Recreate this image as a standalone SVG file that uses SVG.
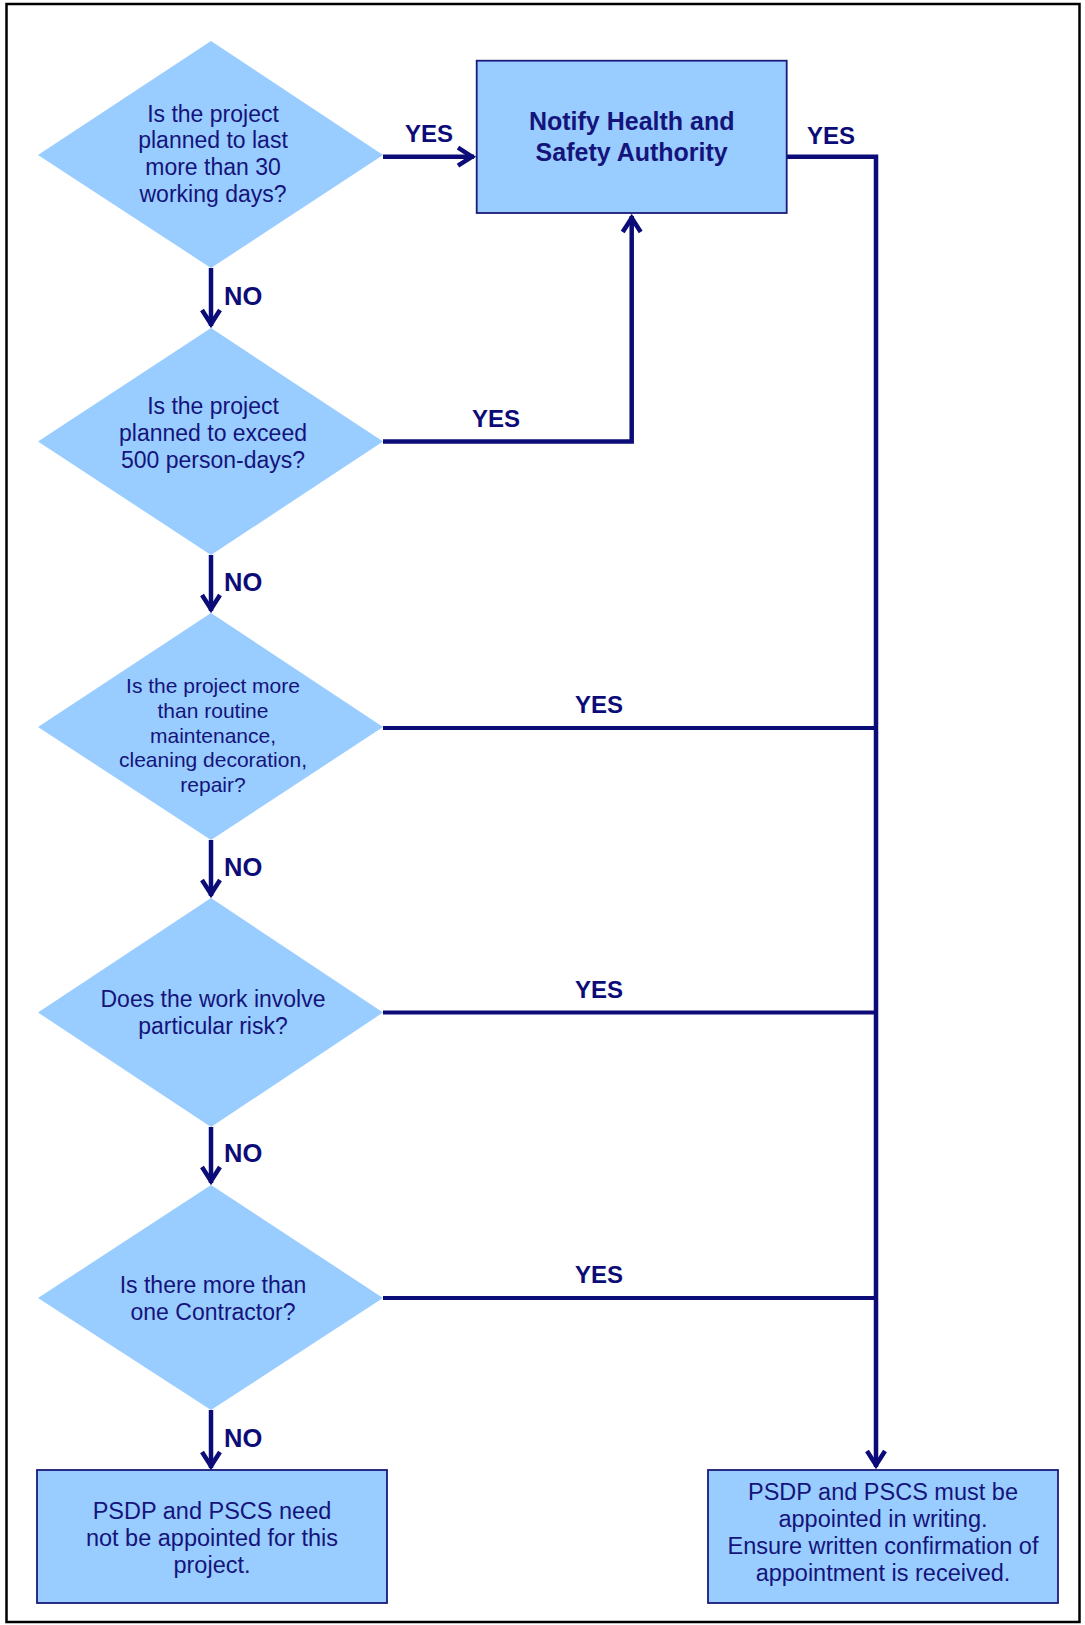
<svg xmlns="http://www.w3.org/2000/svg" width="1085" height="1625" viewBox="0 0 1085 1625">
<style>
.shape{fill:#99ccff;stroke:none}
.box{fill:#99ccff;stroke:#1a1a7a;stroke-width:1.8}
.t{font-family:"Liberation Sans",Arial,sans-serif;fill:#14147a;text-anchor:middle}
.q{font-size:23px}
.q3{font-size:21px}
.b{font-size:23.5px}
.h{font-size:25px;font-weight:bold}
.lbl{font-family:"Liberation Sans",Arial,sans-serif;fill:#0c0c78;font-size:24px;font-weight:bold}
.no{font-size:25.5px}
.c{fill:none;stroke:#0c0c78;stroke-width:4.5;stroke-linejoin:miter}
.ch{fill:none;stroke:#0c0c78;stroke-width:3.8}
</style>
<defs>
<marker id="arr" markerUnits="userSpaceOnUse" markerWidth="30" markerHeight="30" viewBox="-22 -15 30 30" refX="1" refY="0" orient="auto">
<path d="M-15,-9 L-1,0 L-15,9" fill="none" stroke="#0c0c78" stroke-width="4.5" stroke-linejoin="miter"/>
</marker>
</defs>
<rect x="0" y="0" width="1085" height="1625" fill="#ffffff"/>
<rect x="6.5" y="4" width="1073" height="1618" fill="none" stroke="#000" stroke-width="2.5"/>

<g id="connectors">
<path class="c" d="M383,156.7 H474" marker-end="url(#arr)"/>
<path class="c" d="M786.7,156.7 H876 V1467" marker-end="url(#arr)"/>
<path class="c" d="M383,441.5 H631.7 V216" marker-end="url(#arr)"/>
<path class="ch" d="M383,728 H876"/>
<path class="ch" d="M383,1012.5 H876"/>
<path class="ch" d="M383,1298 H876"/>
<path class="c" d="M211,268 V326" marker-end="url(#arr)"/>
<path class="c" d="M211,555 V611" marker-end="url(#arr)"/>
<path class="c" d="M211,840 V896" marker-end="url(#arr)"/>
<path class="c" d="M211,1127 V1183" marker-end="url(#arr)"/>
<path class="c" d="M211,1410 V1468" marker-end="url(#arr)"/>
<text class="lbl" x="405" y="141.7">YES</text>
<text class="lbl" x="807" y="144">YES</text>
<text class="lbl" x="472" y="426.7">YES</text>
<text class="lbl" x="575" y="713">YES</text>
<text class="lbl" x="575" y="997.5">YES</text>
<text class="lbl" x="575" y="1283">YES</text>
<text class="lbl no" x="224" y="305">NO</text>
<text class="lbl no" x="224" y="591">NO</text>
<text class="lbl no" x="224" y="876">NO</text>
<text class="lbl no" x="224" y="1162">NO</text>
<text class="lbl no" x="224" y="1447">NO</text>
</g>

<g id="q1">
<polygon class="shape" points="211,41 383,155 211,268 38,155"/>
<text class="t q" x="213" y="121.7">Is the project</text>
<text class="t q" x="213" y="148.3">planned to last</text>
<text class="t q" x="213" y="175">more than 30</text>
<text class="t q" x="213" y="201.7">working days?</text>
</g>

<g id="notify">
<rect class="box" x="476.7" y="60.7" width="310" height="152.3"/>
<text class="t h" x="631.7" y="129.5">Notify Health and</text>
<text class="t h" x="631.7" y="160.5">Safety Authority</text>
</g>

<g id="q2">
<polygon class="shape" points="211,328 383,441.5 211,555 38,441.5"/>
<text class="t q" x="213" y="414">Is the project</text>
<text class="t q" x="213" y="441">planned to exceed</text>
<text class="t q" x="213" y="467.5">500 person-days?</text>
</g>

<g id="q3">
<polygon class="shape" points="211,613 383,727 211,840 38,727"/>
<text class="t q3" x="213" y="693">Is the project more</text>
<text class="t q3" x="213" y="718">than routine</text>
<text class="t q3" x="213" y="743">maintenance,</text>
<text class="t q3" x="213" y="767">cleaning decoration,</text>
<text class="t q3" x="213" y="792">repair?</text>
</g>

<g id="q4">
<polygon class="shape" points="211,898 383,1012.5 211,1127 38,1012.5"/>
<text class="t q" x="213" y="1006.7">Does the work involve</text>
<text class="t q" x="213" y="1034">particular risk?</text>
</g>

<g id="q5">
<polygon class="shape" points="211,1185 383,1298 211,1410 38,1298"/>
<text class="t q" x="213" y="1293">Is there more than</text>
<text class="t q" x="213" y="1320">one Contractor?</text>
</g>

<g id="no-appoint">
<rect class="box" x="37" y="1470" width="350" height="133"/>
<text class="t b" x="212" y="1519">PSDP and PSCS need</text>
<text class="t b" x="212" y="1546">not be appointed for this</text>
<text class="t b" x="212" y="1573">project.</text>
</g>

<g id="appoint">
<rect class="box" x="708" y="1470" width="350" height="133"/>
<text class="t b" x="883" y="1500">PSDP and PSCS must be</text>
<text class="t b" x="883" y="1527">appointed in writing.</text>
<text class="t b" x="883" y="1554">Ensure written confirmation of</text>
<text class="t b" x="883" y="1581">appointment is received.</text>
</g>
</svg>
